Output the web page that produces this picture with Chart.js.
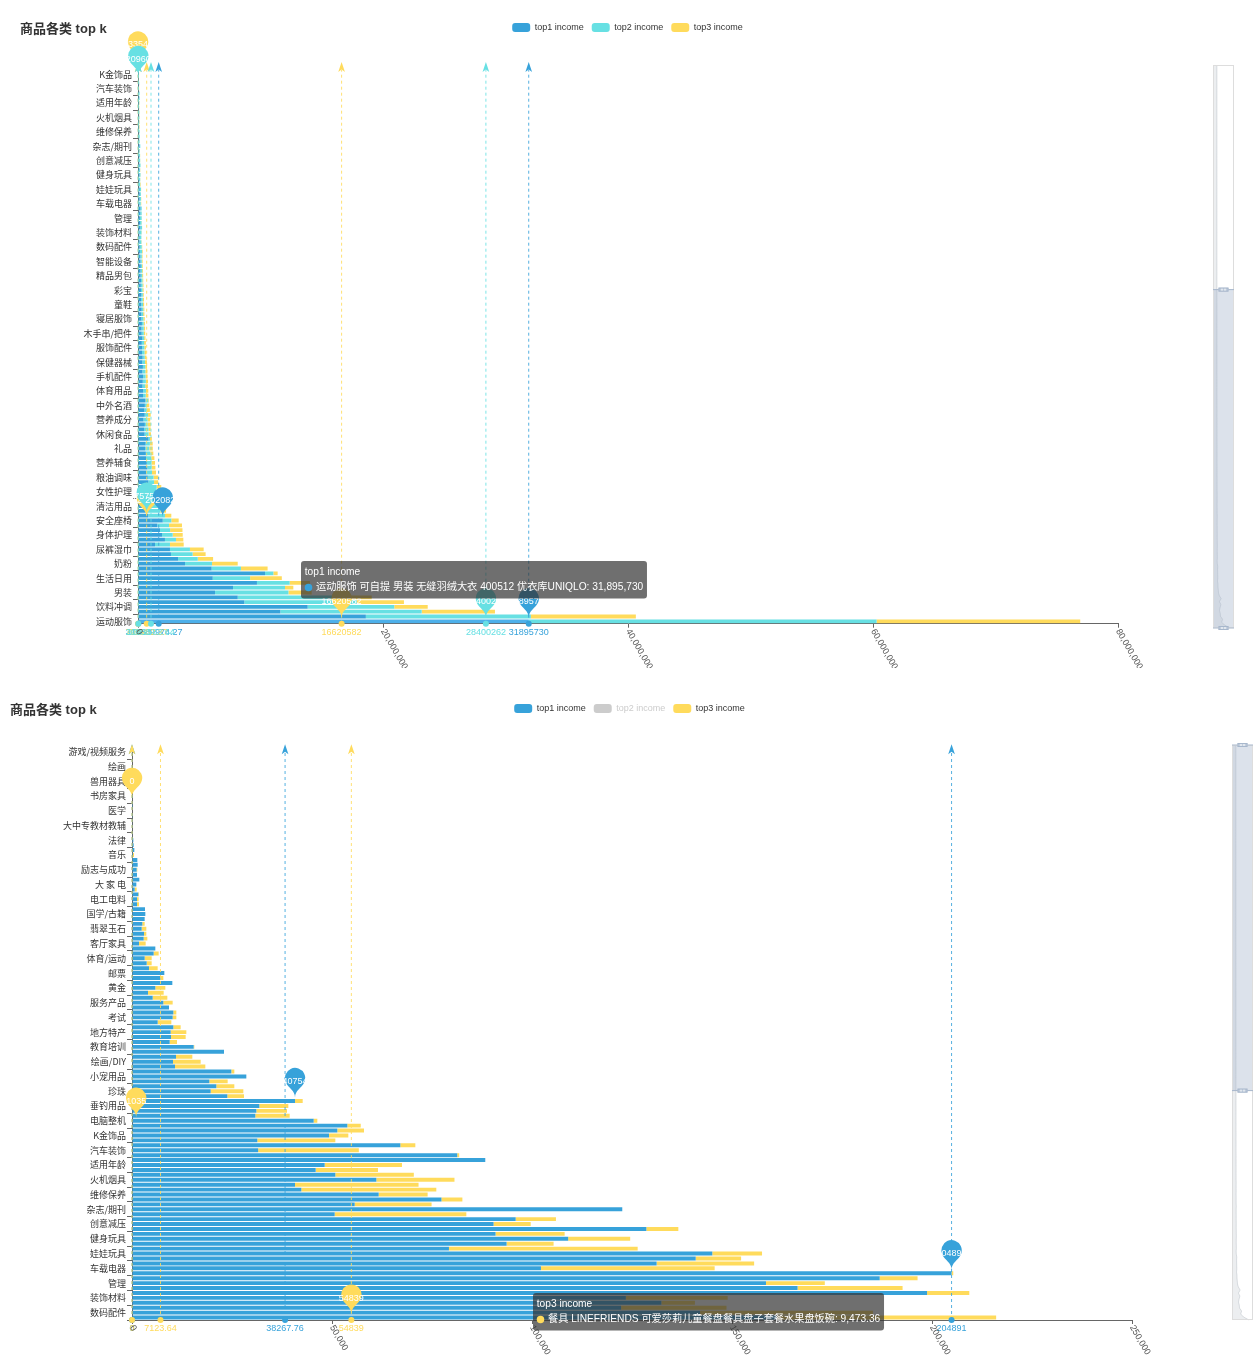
<!DOCTYPE html>
<html lang="zh-CN">
<head>
<meta charset="utf-8">
<title>商品各类 top k</title>
<script src="https://cdn.jsdelivr.net/npm/chart.js@4/dist/chart.umd.min.js"></script>
<style>
  html, body { margin: 0; padding: 0; background: #fff; }
  body { width: 1255px; height: 1360px; overflow: hidden; position: relative; }
  .panel { position: absolute; }
  #panelTop { left: 0; top: 0; width: 1255px; height: 668px; }
  #panelBottom { left: 4px; top: 690px; width: 1251px; height: 670px; }
</style>
</head>
<body>
<div class="panel" id="panelTop"><canvas id="chartTop"></canvas></div>
<div class="panel" id="panelBottom"><canvas id="chartBottom"></canvas></div>
<script>
// ---------------------------------------------------------------------------
// Data: 193 product categories, ordered from the highest-income category
// (index 0, drawn at the bottom) upwards. Only every third category name is
// shown on the axis.
// ---------------------------------------------------------------------------
const axisNames = [
  '运动服饰','饮料冲调','男装','生活日用','奶粉','尿裤湿巾','身体护理','安全座椅','清洁用品','女性护理',
  '粮油调味','营养辅食','礼品','休闲食品','营养成分','中外名酒','体育用品','手机配件','保健器械','服饰配件',
  '木手串/把件','寝居服饰','童鞋','彩宝','精品男包','智能设备','数码配件','装饰材料','管理','车载电器',
  '娃娃玩具','健身玩具','创意减压','杂志/期刊','维修保养','火机烟具','适用年龄','汽车装饰','K金饰品','电脑整机',
  '垂钓用品','珍珠','小宠用品','绘画/DIY','教育培训','地方特产','考试','服务产品','黄金','邮票',
  '体育/运动','客厅家具','翡翠玉石','国学/古籍','电工电料','大 家 电','励志与成功','音乐','法律','大中专教材教辅',
  '医学','书房家具','兽用器具','绘画','游戏/视频服务'
];

const seriesNames = ['top1 income', 'top2 income', 'top3 income'];

const top1 = [
  31895730, 18600000, 11620000, 13850000, 8680000, 8140000, 6290000, 7760000, 9710000, 6100000,
  10370000, 6010000, 3840000, 3270000, 2690000, 2610000, 1390000, 2200000, 1960000, 1800000,
  1580000, 2020824, 840000, 630000, 1050000, 880000, 760000, 820000, 1010000, 850000,
  800000, 690000, 760000, 720000, 660000, 640000, 590000, 620000, 860000, 540000,
  500000, 560000, 450000, 550000, 520000, 560000, 600000, 410000, 420000, 370000,
  390000, 420000, 360000, 400000, 350000, 380000, 330000, 340000, 310000, 360000,
  300000, 290000, 320000, 280000, 270000, 300000, 260000, 250000, 270000, 240000,
  230000, 250000, 220000, 210000, 230000, 200000, 190000,
  161198, 142012, 122272, 132339, 123460, 198764, 166391, 158495, 186920, 204891,
  102236, 131155, 140926, 145072, 79239, 93649, 109046, 90885, 128589, 90392,
  95919, 50667, 122568, 55667, 77364, 61667, 42333, 40750, 61083, 50833,
  45917, 48167, 88319, 81312, 31540, 67083, 31333, 49250, 51333, 53833,
  45417, 30833, 31083, 31833, 40754, 23833, 19667, 21083, 19333, 28583,
  24833, 10750, 10250, 11000, 23000, 15417, 9417, 9750, 9667, 10333,
  6417, 10167, 10333, 9250, 7833, 5167, 4000, 5833, 10083, 7083,
  8083, 4250, 3667, 3167, 5417, 5833, 1750, 2917, 3000, 2417,
  2583, 3167, 3333, 3250, 1250, 1250, 1583, 667, 1083, 1833,
  1250, 1167, 1417, 1333, 250, 583, 417, 333, 150, 120,
  95, 80, 60, 0, 45, 0, 30, 0, 0, 0,
  0, 0, 0, 0, 0, 0
];

const top2 = [
  28400262, 13470000, 11540000, 7070000, 9170000, 8900000, 5990000, 4240000, 2670000, 3050000,
  680000, 2390000, 2200000, 1610000, 1770000, 1630000, 1220000, 900000, 870000, 820000,
  950000, 700000, 1360000, 1200000, 700000, 620000, 560000, 480000, 520000, 460000,
  470000, 450000, 350000, 380000, 420000, 360000, 330000, 350000, 120000, 320000,
  350000, 230000, 330000, 270000, 200000, 170000, 240000, 220000, 230000, 220000,
  250000, 200000, 240000, 190000, 220000, 170000, 200000, 180000, 190000, 140000,
  170000, 180000, 140000, 160000, 150000, 130000, 150000, 140000, 120000, 130000,
  140000, 110000, 120000, 130000, 100000, 110000, 120000,
  170000, 160000, 150000, 140000, 160000, 130000, 120000, 140000, 110000, 100000,
  120000, 110000, 90000, 100000, 95000, 85000, 90000, 80000, 75000, 85000,
  70000, 80000, 65000, 70000, 60000, 65000, 55000, 60000, 50000, 55000,
  45000, 50000, 40000, 45000, 35000, 30000, 20960, 30000, 25000
];

const top3 = [
  16620582, 8570000, 5980000, 2730000, 3860000, 2040000, 1900000, 680000, 1650000, 2590000,
  350000, 2180000, 2100000, 1250000, 1060000, 1120000, 1120000, 600000, 820000, 1010000,
  1060000, 600000, 520000, 460000, 450000, 420000, 380000, 330000, 370000, 340000,
  390000, 330000, 310000, 290000, 260000, 250000, 290000, 230000, 150000, 200000,
  190000, 260000, 220000, 220000, 250000, 190000, 60000, 220000, 190000, 220000,
  180000, 160000, 170000, 150000, 160000, 140000, 150000, 130000, 140000, 110000,
  120000, 110000, 100000, 110000, 100000, 90000, 90000, 100000, 80000, 90000,
  80000, 70000, 80000, 70000, 60000, 70000, 60000,
  54839, 43231, 26353, 8390, 25465, 10561, 26254, 14706, 9473.36, 420,
  43428, 24379, 11351, 12436, 47178, 11745, 15496, 17273, 7995, 9278,
  10068, 32915, 0, 19229, 5231, 12242, 33747, 30889, 19538, 19622,
  15583, 19327, 0, 490, 25167, 3750, 19500, 4833, 6667, 3354,
  917, 8583, 7667, 7250, 1917, 4167, 8167, 4500, 4583, 0,
  750, 7583, 6917, 4083, 0, 167, 1833, 3667, 3917, 1833,
  3417, 917, 750, 0, 2333, 3667, 3917, 2500, 0, 750,
  0, 2167, 1250, 1750, 1250, 0, 1667, 917, 583, 1167,
  583, 0, 0, 0, 500, 417, 167, 500, 0, 0,
  0, 167, 0, 0, 250, 0, 0, 0, 0, 0,
  0, 0, 0, 0, 0, 0, 0, 0, 0, 0,
  0, 0, 0, 0, 0, 0
];

// Reference lines per series: [max, average, min]
const topLineValues = [[31895730, 1689974.27, 31333], [28400262, 1061583.64, 20960], [16620582, 708962.27, 3354]];
const bottomLineValues = [[204891, 38267.76, 0], null, [54839, 7123.64, 0]];

// Marker pins: [series, value, category index, label]
const topPins = [
  [2, 16620582, 0, '16620582'], [1, 28400262, 0, '28400262'], [0, 31895730, 0, '31895730'],
  [2, 3354, 116, '3354'], [1, 20960, 113, '20960'],
  [2, 710000, 21, '120822'], [1, 710000, 22, '75750'], [0, 2020824, 21, '2020824']
];
const bottomPins = [
  [2, 0, 182, '0'], [2, 1035, 117, '1035'], [0, 40754, 121, '40754'],
  [2, 54839, 77, '54839'], [0, 204891, 86, '204891']
];

// Tooltip contents shown on each chart
const topTip = { series: 0, title: 'top1 income', text: '运动服饰 可自提 男装 无缝羽绒大衣 400512 优衣库UNIQLO: 31,895,730' };
const bottomTip = { series: 2, title: 'top3 income', text: '餐具 LINEFRIENDS 可爱莎莉儿童餐盘餐具盘子套餐水果盘饭碗: 9,473.36' };

const categories = top1.map((_, i) => (i % 3 === 0 ? axisNames[i / 3] : ''));

// ---------------------------------------------------------------------------
// Styling
// ---------------------------------------------------------------------------
const COLORS = ['#37A2DA', '#67E0E3', '#FFDB5C'];
const FONT = '"Liberation Sans", "Noto Sans CJK SC", sans-serif';
Chart.defaults.font.family = FONT;
Chart.defaults.animation = false;

function fmt(v) { return v.toLocaleString('en-US'); }

function drawPin(ctx, x, y, size, color) {
  const w = size * 0.6, h = size, r = w / 2;
  const dy = r * r / (h - r);
  const cy = y - h + r + dy;
  const angle = Math.asin(dy / r);
  const dx = Math.cos(angle) * r;
  const tanX = Math.sin(angle), tanY = Math.cos(angle);
  const cpLen = r * 0.6, cpLen2 = r * 0.7;
  ctx.beginPath();
  ctx.moveTo(x - dx, cy + dy);
  ctx.arc(x, cy, r, Math.PI - angle, Math.PI * 2 + angle);
  ctx.bezierCurveTo(x + dx - tanX * cpLen, cy + dy + tanY * cpLen, x, y - cpLen2, x, y);
  ctx.bezierCurveTo(x, y - cpLen2, x - dx + tanX * cpLen, cy + dy + tanY * cpLen, x - dx, cy + dy);
  ctx.closePath();
  ctx.fillStyle = color;
  ctx.fill();
}

function drawArrow(ctx, x, yTop, w, h, color) {
  const dx = w / 3;
  ctx.beginPath();
  ctx.moveTo(x, yTop);
  ctx.lineTo(x + dx, yTop + h);
  ctx.lineTo(x, yTop + h * 0.75);
  ctx.lineTo(x - dx, yTop + h);
  ctx.closePath();
  ctx.fillStyle = color;
  ctx.fill();
}

function roundRect(ctx, x, y, w, h, r) {
  ctx.beginPath();
  ctx.moveTo(x + r, y);
  ctx.arcTo(x + w, y, x + w, y + h, r);
  ctx.arcTo(x + w, y + h, x, y + h, r);
  ctx.arcTo(x, y + h, x, y, r);
  ctx.arcTo(x, y, x + w, y, r);
  ctx.closePath();
}

// Overlay drawing: reference lines, marker pins, rotated value-axis labels,
// title, zoom slider and the pinned tooltip.
function makeDecor(view) {
  return {
    id: 'decor',
    afterDatasetsDraw(chart) {
      const ctx = chart.ctx;
      const xs = chart.scales.x, ys = chart.scales.y;
      const area = chart.chartArea;
      ctx.save();
      // reference lines (blue, yellow, then cyan on top)
      const order = [0, 2, 1];
      ctx.font = '9px ' + FONT;
      ctx.textAlign = 'center';
      ctx.textBaseline = 'middle';
      order.forEach(s => {
        const vals = view.lines[s];
        if (!vals) return;
        vals.forEach(v => {
          const px = xs.getPixelForValue(v);
          ctx.strokeStyle = COLORS[s];
          ctx.lineWidth = 1;
          ctx.globalAlpha = 0.85;
          ctx.setLineDash([3, 3]);
          ctx.beginPath();
          ctx.moveTo(px, area.bottom);
          ctx.lineTo(px, area.top + 3);
          ctx.stroke();
          ctx.setLineDash([]);
          ctx.globalAlpha = 1;
          drawArrow(ctx, px, area.top - 5, 10, 10, COLORS[s]);
          ctx.beginPath();
          ctx.arc(px, area.bottom, 3, 0, Math.PI * 2);
          ctx.fillStyle = COLORS[s];
          ctx.fill();
          ctx.fillText(String(v), px, area.bottom + 8.5);
        });
      });
      // pins
      view.pins.forEach(([s, v, cat, label]) => {
        const px = xs.getPixelForValue(v);
        const py = ys.getPixelForValue(cat) - 3.5;
        drawPin(ctx, px, py, 34, COLORS[s]);
        ctx.fillStyle = '#fff';
        ctx.font = '9px ' + FONT;
        ctx.textAlign = 'center';
        ctx.textBaseline = 'middle';
        ctx.fillText(label, px, py - 16);
      });
      ctx.restore();
    },
    afterDraw(chart) {
      const ctx = chart.ctx;
      const xs = chart.scales.x;
      const area = chart.chartArea;
      ctx.save();
      // title
      ctx.fillStyle = '#333';
      ctx.font = 'bold 13px ' + FONT;
      ctx.textAlign = 'left';
      ctx.textBaseline = 'middle';
      ctx.fillText('商品各类 top k', view.title.x, view.title.y);

      // rotated value-axis labels
      ctx.font = '9px ' + FONT;
      ctx.fillStyle = '#555';
      xs.ticks.forEach(t => {
        const px = xs.getPixelForValue(t.value);
        ctx.save();
        ctx.translate(px, area.bottom + 6);
        ctx.rotate(Math.PI / 3);
        ctx.textAlign = 'left';
        ctx.textBaseline = 'middle';
        ctx.fillText(fmt(t.value), 0, 0);
        ctx.restore();
      });

      // zoom slider on the right
      const sl = view.slider;
      const n = categories.length;
      const H = sl.bottom - sl.top;
      const maxV = Math.max(...top1), minV = Math.min(...top1);
      const pad = (maxV - minV) * 0.3;
      const lo = minV - pad, hi = maxV + pad;
      const yOf = i => sl.bottom - (i / (n - 1)) * H;
      const xOf = v => sl.x + (v - lo) / (hi - lo) * sl.w;
      ctx.beginPath();
      ctx.moveTo(sl.x, sl.bottom);
      top1.forEach((v, i) => ctx.lineTo(xOf(v), yOf(i)));
      ctx.lineTo(sl.x, sl.top);
      ctx.closePath();
      ctx.fillStyle = 'rgba(47,69,84,0.09)';
      ctx.fill();
      ctx.beginPath();
      top1.forEach((v, i) => { if (i === 0) ctx.moveTo(xOf(v), yOf(i)); else ctx.lineTo(xOf(v), yOf(i)); });
      ctx.strokeStyle = 'rgba(47,69,84,0.3)';
      ctx.lineWidth = 0.5;
      ctx.stroke();
      const selBottom = sl.bottom - (view.min / n) * H;
      const selTop = sl.bottom - ((view.max + 1) / n) * H;
      ctx.fillStyle = 'rgba(167,183,204,0.4)';
      ctx.fillRect(sl.x, selTop, sl.w, selBottom - selTop);
      ctx.strokeStyle = '#ddd';
      ctx.lineWidth = 1;
      ctx.strokeRect(sl.x + 0.5, sl.top + 0.5, sl.w - 1, H - 1);
      [selTop, selBottom].forEach(y => {
        ctx.strokeStyle = '#a7b7cc';
        ctx.beginPath();
        ctx.moveTo(sl.x, y); ctx.lineTo(sl.x + sl.w, y); ctx.stroke();
        const cx = sl.x + sl.w / 2;
        ctx.fillStyle = '#c3cedd';
        ctx.fillRect(cx - 5, y - 2, 10, 4);
        ctx.strokeStyle = '#a7b7cc';
        ctx.strokeRect(cx - 5 + 0.5, y - 2 + 0.5, 9, 3);
        ctx.fillStyle = '#fff';
        ctx.fillRect(cx - 2, y - 1, 1, 2);
        ctx.fillRect(cx + 1, y - 1, 1, 2);
      });

      // pinned tooltip
      const tp = view.tooltip;
      ctx.font = '10.2px ' + FONT;
      const w1 = ctx.measureText(tp.title).width;
      const w2 = 7.5 + 3.75 + ctx.measureText(tp.text).width;
      const bw = Math.max(w1, w2) + 7.5;
      const bh = 37.5;
      roundRect(ctx, tp.x, tp.y, bw, bh, 3);
      ctx.fillStyle = 'rgba(50,50,50,0.7)';
      ctx.fill();
      ctx.fillStyle = '#fff';
      ctx.textAlign = 'left';
      ctx.textBaseline = 'middle';
      ctx.fillText(tp.title, tp.x + 3.75, tp.y + 11);
      ctx.beginPath();
      ctx.arc(tp.x + 3.75 + 3.75, tp.y + 26.5, 3.75, 0, Math.PI * 2);
      ctx.fillStyle = COLORS[tp.series];
      ctx.fill();
      ctx.fillStyle = '#fff';
      ctx.fillText(tp.text, tp.x + 3.75 + 11.25, tp.y + 26.5);
      ctx.restore();
    }
  };
}

function makeChart(view) {
  const dataArrays = [top1, top2, top3];
  return new Chart(document.getElementById(view.canvas), {
    type: 'bar',
    data: {
      labels: categories,
      datasets: [0, 1, 2].map(s => ({
        label: seriesNames[s],
        data: dataArrays[s],
        backgroundColor: (c) => (view.highlight && view.highlight[0] === s && view.highlight[1] === c.dataIndex) ? '#4db0ea' : COLORS[s],
        hidden: view.hidden.includes(s),
        stack: 'income',
        categoryPercentage: 0.8,
        barPercentage: 1.0,
        borderWidth: 0
      }))
    },
    options: {
      indexAxis: 'y',
      responsive: true,
      maintainAspectRatio: false,
      devicePixelRatio: 1,
      animation: false,
      events: [],
      layout: { padding: { top: view.padTop, left: 0, right: 0, bottom: 0 } },
      scales: {
        x: {
          type: 'linear', stacked: true, min: 0, max: view.xMax,
          ticks: { display: false, stepSize: view.xStep },
          grid: { display: true, drawOnChartArea: false, drawTicks: true, tickLength: 4, color: '#666' },
          border: { display: true, color: '#666', width: 1 },
          afterFit: (s) => { s.height = view.xAxisHeight; s.paddingRight = view.rightGap; s.paddingLeft = 0; }
        },
        y: {
          type: 'category', stacked: true, reverse: true, min: view.min, max: view.max, offset: true,
          ticks: { autoSkip: false, padding: 1, color: '#333', font: { size: 9, family: '"Noto Sans CJK SC", sans-serif' }, callback: (v) => categories[v] },
          grid: {
            display: true, drawOnChartArea: false, drawTicks: true, tickLength: 5, offset: true,
            color: (c) => (c.tick && c.tick.value % 3 === 2) ? '#666' : 'rgba(0,0,0,0)'
          },
          border: { display: true, color: '#666', width: 1 },
          afterFit: (s) => { s.width = view.yAxisWidth; }
        }
      },
      plugins: {
        legend: {
          display: true, position: 'top', align: 'center',
          onClick: () => {},
          labels: {
            boxWidth: 18, boxHeight: 9, padding: 8, font: { size: 9 }, color: '#333',
            useBorderRadius: true, borderRadius: 3,
            generateLabels: (chart) => chart.data.datasets.map((ds, i) => ({
              text: ds.label,
              fillStyle: ds.hidden ? '#ccc' : COLORS[i],
              strokeStyle: 'rgba(0,0,0,0)',
              lineWidth: 0,
              hidden: false,
              datasetIndex: i,
              fontColor: ds.hidden ? '#ccc' : '#333',
              borderRadius: 3
            }))
          }
        },
        subtitle: { display: true, text: '', weight: 500, padding: { top: 0, bottom: view.spacer }, font: { size: 10, lineHeight: 1.2 } },
        title: { display: false },
        tooltip: { enabled: false }
      }
    },
    plugins: [makeDecor(view)]
  });
}

makeChart({
  canvas: 'chartTop', min: 0, max: 115, hidden: [], xMax: 80000000, xStep: 20000000,
  padTop: 15, spacer: 12.9, yAxisWidth: 138, xAxisHeight: 44.3, rightGap: 137,
  title: { x: 20, y: 29 },
  lines: topLineValues, pins: topPins,
  tooltip: Object.assign({ x: 301, y: 561 }, topTip),
  slider: { x: 1213, w: 21, top: 65, bottom: 628 },
  highlight: [0, 0]
});

makeChart({
  canvas: 'chartBottom', min: 77, max: 192, hidden: [1], xMax: 250000, xStep: 50000,
  padTop: 6, spacer: 14.2, yAxisWidth: 128, xAxisHeight: 40, rightGap: 123,
  title: { x: 6, y: 20 },
  lines: bottomLineValues, pins: bottomPins,
  tooltip: Object.assign({ x: 529, y: 603 }, bottomTip),
  slider: { x: 1228, w: 21, top: 55, bottom: 630 },
  highlight: null
});
</script>
</body>
</html>
